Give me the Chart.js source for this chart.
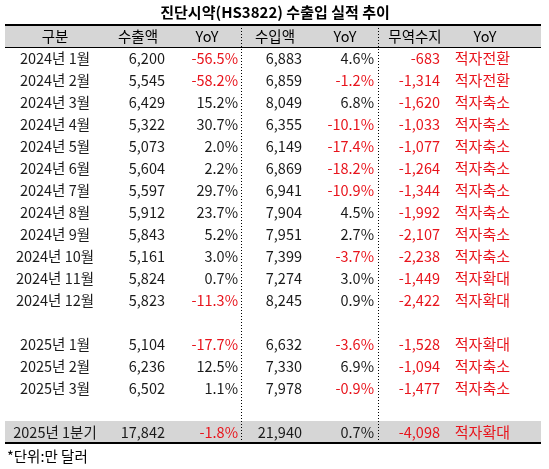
<!DOCTYPE html>
<html><head><meta charset="utf-8">
<script src="https://cdn.jsdelivr.net/npm/chart.js@4"></script>
<style>html,body{margin:0;padding:0;background:#fff}#c{display:block}</style>
</head><body>
<div style="width:549px;height:469px"><canvas id="c"></canvas></div>
<script>
const title = '진단시약(HS3822) 수출입 실적 추이';
const headers = ['구분', '수출액', 'YoY', '수입액', 'YoY', '무역수지', 'YoY'];
const periods = ['2024년 1월','2024년 2월','2024년 3월','2024년 4월','2024년 5월','2024년 6월','2024년 7월','2024년 8월','2024년 9월','2024년 10월','2024년 11월','2024년 12월',null,'2025년 1월','2025년 2월','2025년 3월',null,'2025년 1분기'];
const exports_ = [6200,5545,6429,5322,5073,5604,5597,5912,5843,5161,5824,5823,null,5104,6236,6502,null,17842];
const exportYoY = [-56.5,-58.2,15.2,30.7,2.0,2.2,29.7,23.7,5.2,3.0,0.7,-11.3,null,-17.7,12.5,1.1,null,-1.8];
const imports_ = [6883,6859,8049,6355,6149,6869,6941,7904,7951,7399,7274,8245,null,6632,7330,7978,null,21940];
const importYoY = [4.6,-1.2,6.8,-10.1,-17.4,-18.2,-10.9,4.5,2.7,-3.7,3.0,0.9,null,-3.6,6.9,-0.9,null,0.7];
const balance = [-683,-1314,-1620,-1033,-1077,-1264,-1344,-1992,-2107,-2238,-1449,-2422,null,-1528,-1094,-1477,null,-4098];
const balanceNote = ['적자전환','적자전환','적자축소','적자축소','적자축소','적자축소','적자축소','적자축소','적자축소','적자축소','적자확대','적자확대',null,'적자확대','적자축소','적자축소',null,'적자확대'];
const footnote = '*단위:만 달러';

const RED = '#e8141c', FONT = '"Noto Sans CJK KR", sans-serif';
// column anchor x and alignment
const cols = [{x:55,a:'center'},{x:165,a:'right'},{x:238,a:'right'},{x:302,a:'right'},{x:374,a:'right'},{x:440,a:'right'},{x:510,a:'right'}];
const hdrX = [55,138,207,275,345,415,485];
const fmt = v => v.toLocaleString('en-US');
const pct = v => v.toFixed(1) + '%';

const points = [];
periods.forEach((p, i) => { if (p) points.push({x: cols[1].x, y: i + 1}); });

const tablePlugin = {
  id: 'table',
  beforeDatasetsDraw(chart) {
    const {ctx, scales: {x, y}} = chart;
    const L = x.getPixelForValue(5), R = x.getPixelForValue(541);
    const band = i => [y.getPixelForValue(i - 0.5), y.getPixelForValue(i + 0.5)];
    ctx.save();
    ctx.fillStyle = '#d6d6d6';
    let [t, b] = band(0); ctx.fillRect(L, t, R - L, b - t);
    [t, b] = band(18); ctx.fillRect(L, t, R - L, b - t);
    ctx.restore();
  },
  afterDatasetsDraw(chart) {
    const {ctx, scales: {x, y}} = chart;
    const L = x.getPixelForValue(5), R = x.getPixelForValue(541);
    ctx.save();
    ctx.textBaseline = 'middle';
    ctx.fillStyle = '#000';
    ctx.font = 'bold 15px ' + FONT; ctx.textAlign = 'center';
    ctx.fillText(title, 275, 12);
    ctx.font = '14.5px ' + FONT;
    headers.forEach((h, j) => ctx.fillText(h, x.getPixelForValue(hdrX[j]), y.getPixelForValue(0)));
    periods.forEach((p, i) => {
      if (!p) return;
      const yy = y.getPixelForValue(i + 1);
      const cells = [
        [p, false], [fmt(exports_[i]), false], [pct(exportYoY[i]), exportYoY[i] < 0],
        [fmt(imports_[i]), false], [pct(importYoY[i]), importYoY[i] < 0],
        [fmt(balance[i]), balance[i] < 0], [balanceNote[i], true]
      ];
      cells.forEach(([txt, red], j) => {
        ctx.fillStyle = red ? RED : '#1a1a1a';
        ctx.textAlign = cols[j].a;
        ctx.font = (j === 6 ? '15px ' : '14.5px ') + FONT;
        ctx.fillText(txt, x.getPixelForValue(cols[j].x), yy);
      });
    });
    // lines
    const top = y.getPixelForValue(-0.5), hb = y.getPixelForValue(0.5), bot = y.getPixelForValue(18.5);
    ctx.strokeStyle = '#000';
    ctx.lineWidth = 2;
    ctx.beginPath(); ctx.moveTo(L, top); ctx.lineTo(R, top); ctx.moveTo(L, bot); ctx.lineTo(R, bot); ctx.stroke();
    ctx.lineWidth = 1;
    ctx.beginPath(); ctx.moveTo(L, hb + 0.5); ctx.lineTo(R, hb + 0.5); ctx.stroke();
    ctx.setLineDash([1, 2]);
    [241, 378].forEach(v => {
      const px = Math.round(x.getPixelForValue(v)) + 0.5;
      ctx.beginPath(); ctx.moveTo(px, top); ctx.lineTo(px, bot); ctx.stroke();
    });
    ctx.setLineDash([]);
    ctx.fillStyle = '#000'; ctx.textAlign = 'left'; ctx.font = '14.5px ' + FONT;
    ctx.fillText(footnote, 7, 456);
    ctx.restore();
  }
};

new Chart(document.getElementById('c'), {
  type: 'scatter',
  data: { datasets: [{ data: points, pointRadius: 0, showLine: false }] },
  options: {
    responsive: true, maintainAspectRatio: false, animation: false,
    layout: { padding: { top: 25, bottom: 26, left: 0, right: 0 } },
    plugins: { legend: { display: false }, tooltip: { enabled: false } },
    scales: {
      x: { type: 'linear', min: 0, max: 549, display: false },
      y: { type: 'linear', min: -0.5, max: 18.5, reverse: true, display: false }
    }
  },
  plugins: [tablePlugin]
});
</script>
</body></html>
